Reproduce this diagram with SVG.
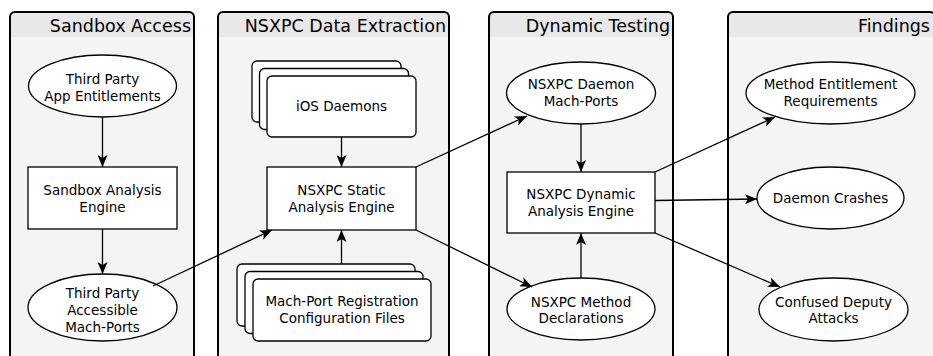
<svg xmlns="http://www.w3.org/2000/svg" width="933" height="356" viewBox="0 0 933 356">
  <style>
    .panel-body { fill: #f4f4f4; }
    .panel-head { fill: #e8e8e8; }
    .panel-border { fill: none; stroke: #000; stroke-width: 2; }
    .title { font-family: "DejaVu Sans", "Liberation Sans", sans-serif; font-size: 17.5px; fill: #000; text-anchor: end; }
    .shape { fill: #fff; stroke: #000; stroke-width: 1.3; }
    .label { font-family: "DejaVu Sans", "Liberation Sans", sans-serif; font-size: 13.5px; fill: #000; text-anchor: middle; }
    .edge { fill: none; stroke: #000; stroke-width: 1.3; marker-end: url(#arrow); }
  </style>
  <defs>
    <marker id="arrow" viewBox="0 0 12 10" refX="12" refY="5" markerWidth="12" markerHeight="10" markerUnits="userSpaceOnUse" orient="auto">
      <path d="M0,0 L12,5 L0,10 L3,5 z" fill="#000"/>
    </marker>
    <clipPath id="clip-p1"><rect x="10" y="12" width="184" height="360" rx="5"/></clipPath>
    <clipPath id="clip-p2"><rect x="218" y="12" width="231" height="360" rx="5"/></clipPath>
    <clipPath id="clip-p3"><rect x="489" y="12" width="184" height="360" rx="5"/></clipPath>
    <clipPath id="clip-p4"><rect x="728" y="12" width="207" height="360" rx="5"/></clipPath>
  </defs>

  <!-- swimlane panels -->
  <g id="panel-sandbox-access">
    <g clip-path="url(#clip-p1)">
      <rect class="panel-body" x="10" y="12" width="184" height="360"/>
      <rect class="panel-head" x="10" y="12" width="184" height="25"/>
    </g>
    <rect class="panel-border" x="10" y="12" width="184" height="360" rx="5"/>
    <text class="title" x="191" y="32">Sandbox Access</text>
  </g>
  <g id="panel-nsxpc-data-extraction">
    <g clip-path="url(#clip-p2)">
      <rect class="panel-body" x="218" y="12" width="231" height="360"/>
      <rect class="panel-head" x="218" y="12" width="231" height="25"/>
    </g>
    <rect class="panel-border" x="218" y="12" width="231" height="360" rx="5"/>
    <text class="title" x="446" y="32">NSXPC Data Extraction</text>
  </g>
  <g id="panel-dynamic-testing">
    <g clip-path="url(#clip-p3)">
      <rect class="panel-body" x="489" y="12" width="184" height="360"/>
      <rect class="panel-head" x="489" y="12" width="184" height="25"/>
    </g>
    <rect class="panel-border" x="489" y="12" width="184" height="360" rx="5"/>
    <text class="title" x="670" y="32">Dynamic Testing</text>
  </g>
  <g id="panel-findings">
    <g clip-path="url(#clip-p4)">
      <rect class="panel-body" x="728" y="12" width="207" height="360"/>
      <rect class="panel-head" x="728" y="12" width="207" height="25"/>
    </g>
    <rect class="panel-border" x="728" y="12" width="207" height="360" rx="5"/>
    <text class="title" x="930" y="32">Findings</text>
  </g>

  <!-- nodes -->
  <g id="third-party-app-entitlements">
    <ellipse class="shape" cx="102.5" cy="86" rx="74" ry="31"/>
    <text class="label" x="102.5" y="84">Third Party</text>
    <text class="label" x="102.5" y="101">App Entitlements</text>
  </g>
  <g id="sandbox-analysis-engine">
    <rect class="shape" x="28" y="167" width="149" height="62"/>
    <text class="label" x="102.5" y="195">Sandbox Analysis</text>
    <text class="label" x="102.5" y="212">Engine</text>
  </g>
  <g id="third-party-accessible-mach-ports">
    <ellipse class="shape" cx="102.5" cy="307.5" rx="74.5" ry="33.5"/>
    <text class="label" x="102.5" y="298">Third Party</text>
    <text class="label" x="102.5" y="315">Accessible</text>
    <text class="label" x="102.5" y="332">Mach-Ports</text>
  </g>
  <g id="ios-daemons">
    <rect class="shape" x="252" y="61" width="149" height="61" rx="5"/>
    <rect class="shape" x="259.5" y="68.5" width="149" height="61" rx="5"/>
    <rect class="shape" x="267" y="76" width="149" height="61" rx="5"/>
    <text class="label" x="341.5" y="111">iOS Daemons</text>
  </g>
  <g id="nsxpc-static-analysis-engine">
    <rect class="shape" x="267" y="167" width="149" height="63"/>
    <text class="label" x="341.5" y="195">NSXPC Static</text>
    <text class="label" x="341.5" y="212">Analysis Engine</text>
  </g>
  <g id="mach-port-registration-files">
    <rect class="shape" x="237" y="264" width="178" height="62" rx="5"/>
    <rect class="shape" x="245" y="271.5" width="178" height="62" rx="5"/>
    <rect class="shape" x="253" y="279" width="178" height="62" rx="5"/>
    <text class="label" x="342" y="306">Mach-Port Registration</text>
    <text class="label" x="342" y="323">Configuration Files</text>
  </g>
  <g id="nsxpc-daemon-mach-ports">
    <ellipse class="shape" cx="581" cy="93" rx="74.5" ry="31"/>
    <text class="label" x="581" y="89">NSXPC Daemon</text>
    <text class="label" x="581" y="106">Mach-Ports</text>
  </g>
  <g id="nsxpc-dynamic-analysis-engine">
    <rect class="shape" x="507" y="172" width="148" height="61"/>
    <text class="label" x="581" y="199">NSXPC Dynamic</text>
    <text class="label" x="581" y="216">Analysis Engine</text>
  </g>
  <g id="nsxpc-method-declarations">
    <ellipse class="shape" cx="581" cy="309" rx="74" ry="31"/>
    <text class="label" x="581" y="307">NSXPC Method</text>
    <text class="label" x="581" y="323">Declarations</text>
  </g>
  <g id="method-entitlement-requirements">
    <ellipse class="shape" cx="830.5" cy="93" rx="84.5" ry="31"/>
    <text class="label" x="830.5" y="89">Method Entitlement</text>
    <text class="label" x="830.5" y="106">Requirements</text>
  </g>
  <g id="daemon-crashes">
    <ellipse class="shape" cx="830.5" cy="198" rx="73.5" ry="31"/>
    <text class="label" x="830.5" y="203">Daemon Crashes</text>
  </g>
  <g id="confused-deputy-attacks">
    <ellipse class="shape" cx="833.5" cy="309.5" rx="74.5" ry="31.5"/>
    <text class="label" x="833.5" y="307">Confused Deputy</text>
    <text class="label" x="833.5" y="323">Attacks</text>
  </g>

  <!-- connectors -->
  <g id="connectors">
    <line class="edge" x1="102.5" y1="117" x2="102.5" y2="167"/>
    <line class="edge" x1="102.5" y1="229" x2="102.5" y2="274"/>
    <line class="edge" x1="153" y1="286" x2="272" y2="230"/>
    <line class="edge" x1="341.5" y1="137" x2="341.5" y2="167"/>
    <line class="edge" x1="341.5" y1="264" x2="341.5" y2="230"/>
    <line class="edge" x1="416" y1="167" x2="527" y2="116"/>
    <line class="edge" x1="416" y1="230" x2="532" y2="287"/>
    <line class="edge" x1="581" y1="124" x2="581" y2="172"/>
    <line class="edge" x1="581" y1="278" x2="581" y2="233"/>
    <line class="edge" x1="655" y1="172" x2="775" y2="117"/>
    <line class="edge" x1="655" y1="200.5" x2="757" y2="199"/>
    <line class="edge" x1="655" y1="233" x2="780" y2="287"/>
  </g>
</svg>
